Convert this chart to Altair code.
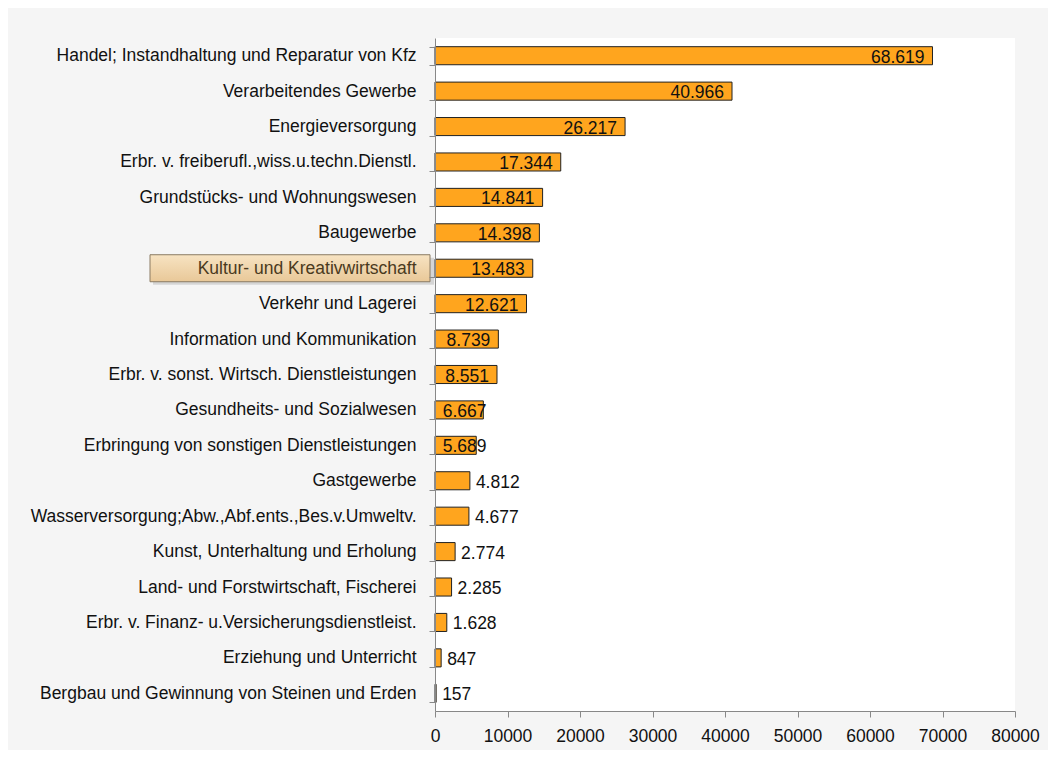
import altair as alt
import pandas as pd

categories = [
    "Handel; Instandhaltung und Reparatur von Kfz",
    "Verarbeitendes Gewerbe",
    "Energieversorgung",
    "Erbr. v. freiberufl.,wiss.u.techn.Dienstl.",
    "Grundstücks- und Wohnungswesen",
    "Baugewerbe",
    "Kultur- und Kreativwirtschaft",
    "Verkehr und Lagerei",
    "Information und Kommunikation",
    "Erbr. v. sonst. Wirtsch. Dienstleistungen",
    "Gesundheits- und Sozialwesen",
    "Erbringung von sonstigen Dienstleistungen",
    "Gastgewerbe",
    "Wasserversorgung;Abw.,Abf.ents.,Bes.v.Umweltv.",
    "Kunst, Unterhaltung und Erholung",
    "Land- und Forstwirtschaft, Fischerei",
    "Erbr. v. Finanz- u.Versicherungsdienstleist.",
    "Erziehung und Unterricht",
    "Bergbau und Gewinnung von Steinen und Erden",
]
values = [68619, 40966, 26217, 17344, 14841, 14398, 13483, 12621, 8739, 8551,
          6667, 5689, 4812, 4677, 2774, 2285, 1628, 847, 157]
x_ticks = [0, 10000, 20000, 30000, 40000, 50000, 60000, 70000, 80000]
highlight = "Kultur- und Kreativwirtschaft"

df = pd.DataFrame({"cat": categories, "value": values})
FONT = "Liberation Sans, Arial"
FS = 17.5

yenc = alt.Y("cat:N", sort=categories, title=None,
             scale=alt.Scale(paddingInner=0.49, paddingOuter=0.245),
             axis=alt.Axis(labelFont=FONT, labelFontSize=FS, labelColor=alt.expr(
                 f"datum.value == '{highlight}' ? '#4a3a1e' : '#111111'"),
                 domainColor="#888888", tickColor="#888888", tickSize=6,
                 tickBand="extent", labelPadding=13, labelLimit=600, zindex=2))

base = alt.Chart(df)

bars = base.mark_bar(color="#FFA51E", stroke="#222222", strokeWidth=1).encode(
    x=alt.X("value:Q", title=None,
            scale=alt.Scale(domain=[0, 80000], nice=False),
            axis=alt.Axis(values=x_ticks, grid=False, labelFlush=False,
                          labelOverlap=False,
                          labelFont=FONT, labelFontSize=FS, labelColor="#111111",
                          domainColor="#888888", tickColor="#888888", tickSize=6,
                          labelPadding=10, format="d")),
    y=yenc,
)

hl_df = df[df["cat"] == highlight]
shadow = alt.Chart(hl_df).mark_bar(color="#000000", opacity=0.13, size=27,
                                   yOffset=3).encode(
    x=alt.value(-282), x2=alt.value(-1), y=alt.Y("cat:N", sort=categories))
box = alt.Chart(hl_df).mark_bar(
    size=27, stroke="#8a7a62", strokeWidth=1,
    color=alt.Gradient(gradient="linear", x1=0, y1=0, x2=0, y2=1,
                       stops=[alt.GradientStop(color="#f7e3c2", offset=0),
                              alt.GradientStop(color="#e9c898", offset=1)])
).encode(x=alt.value(-285), x2=alt.value(-5), y=alt.Y("cat:N", sort=categories))

big = base.transform_filter("datum.value >= 5000").transform_calculate(
    pos="max(datum.value, 8200)",
    lab="replace(format(datum.value, ','), ',', '.')",
).mark_text(align="right", baseline="middle", dx=-8, dy=2, font=FONT,
            fontSize=FS, color="#111111").encode(
    x="pos:Q", y=alt.Y("cat:N", sort=categories), text="lab:N")

small = base.transform_filter("datum.value < 5000").transform_calculate(
    lab="replace(format(datum.value, ','), ',', '.')",
).mark_text(align="left", baseline="middle", dx=6, dy=2, font=FONT,
            fontSize=FS, color="#111111").encode(
    x="value:Q", y=alt.Y("cat:N", sort=categories), text="lab:N")

chart = alt.layer(bars, shadow, box, big, small).properties(
    width=580, height=673,
    background="#f5f5f5",
    padding={"left": 427, "top": 30, "right": 33, "bottom": 39},
    autosize=alt.AutoSizeParams(type="none"),
).configure_view(fill="#ffffff", stroke=None)

chart.save("out.html", embed_options={"renderer": "svg", "actions": False})
